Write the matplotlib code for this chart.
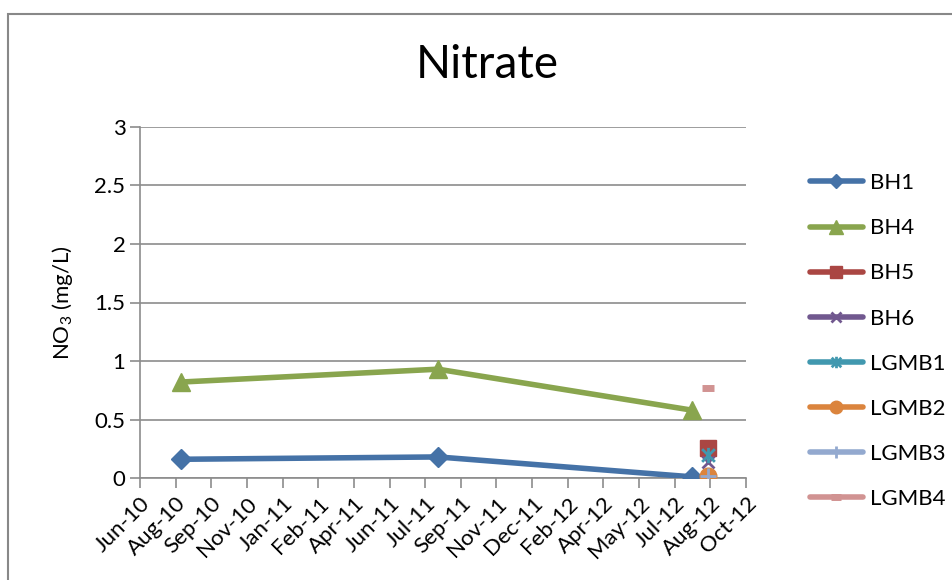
import datetime as dt
import matplotlib
matplotlib.use("Agg")
import matplotlib.pyplot as plt
import matplotlib.dates as mdates
from matplotlib.ticker import FixedLocator, FixedFormatter
from matplotlib.patches import Rectangle
from matplotlib.path import Path

plt.rcParams['font.family'] = ['Lato', 'DejaVu Sans']
plt.rcParams['mathtext.fontset'] = 'custom'
plt.rcParams['mathtext.rm'] = 'Lato'

# ---- data ----
axis_start = dt.date(2010, 6, 22)
tick_step_days = 50
tick_labels = ["Jun-10", "Aug-10", "Sep-10", "Nov-10", "Jan-11", "Feb-11", "Apr-11",
               "Jun-11", "Jul-11", "Sep-11", "Nov-11", "Dec-11", "Feb-12", "Apr-12",
               "May-12", "Jul-12", "Aug-12", "Oct-12"]

bh_dates = [dt.date(2010, 8, 18), dt.date(2011, 8, 14), dt.date(2012, 8, 4)]
lgmb_date = [dt.date(2012, 8, 26)]

series_names = ["BH1", "BH4", "BH5", "BH6", "LGMB1", "LGMB2", "LGMB3", "LGMB4"]
bh1 = [0.16, 0.18, 0.01]
bh4 = [0.82, 0.93, 0.58]
bh5 = [0.26]
bh6 = [0.14]
lgmb1 = [0.20]
lgmb2 = [0.02]
lgmb3 = [0.02]
lgmb4 = [0.77]

# Excel-style star marker: x plus vertical bar
star_path = Path([(-1, -1), (1, 1), (-1, 1), (1, -1), (0, -1.2), (0, 1.2)],
                 [Path.MOVETO, Path.LINETO, Path.MOVETO, Path.LINETO, Path.MOVETO, Path.LINETO])

colors = ['#4572A7', '#89A54E', '#AA4643', '#71588F', '#4198AF', '#DB843D', '#93A9CF', '#D19392']
markers = ['D', '^', 's', 'x', star_path, 'o', '+', '_']
msizes = [10, 13, 12, 9, 11, 12, 12, 9]

fig = plt.figure(figsize=(9.53, 5.8), dpi=100)
ax = fig.add_axes([140 / 953, (580 - 478) / 580, (746 - 140) / 953, (478 - 127) / 580])

fig.patches.append(Rectangle((8 / 953, -0.1), 1.2, (580 - 14) / 580 + 0.1,
                             transform=fig.transFigure, fill=False,
                             edgecolor='#888888', linewidth=1.5, zorder=0))

all_x = [bh_dates, bh_dates, lgmb_date, lgmb_date, lgmb_date, lgmb_date, lgmb_date, lgmb_date]
all_y = [bh1, bh4, bh5, bh6, lgmb1, lgmb2, lgmb3, lgmb4]

for name, xs, ys, c, m, ms in zip(series_names, all_x, all_y, colors, markers, msizes):
    filled = isinstance(m, str) and m in ('D', '^', 's', 'o')
    mew = 1 if filled else 2
    if isinstance(m, str) and m == '_':
        mew = 5
    ax.plot([mdates.date2num(d) for d in xs], ys, color=c, marker=m, markersize=ms,
            linewidth=4, markeredgewidth=mew, markeredgecolor=c, label=name,
            solid_capstyle='round', zorder=3)

tick_nums = [mdates.date2num(axis_start) + tick_step_days * i for i in range(len(tick_labels))]
ax.set_xlim(tick_nums[0], tick_nums[-1])
ax.xaxis.set_major_locator(FixedLocator(tick_nums))
ax.xaxis.set_major_formatter(FixedFormatter(tick_labels))
plt.setp(ax.get_xticklabels(), rotation=45, ha='right', rotation_mode='anchor')

ax.set_ylim(0, 3)
ax.set_yticks([0, 0.5, 1, 1.5, 2, 2.5, 3])
ax.set_yticklabels(['0', '0.5', '1', '1.5', '2', '2.5', '3'])
ax.grid(axis='y', color='#8c8c8c', linewidth=1.2)
ax.set_axisbelow(True)

for s in ['top', 'right']:
    ax.spines[s].set_visible(False)
for s in ['left', 'bottom']:
    ax.spines[s].set_color('#8c8c8c')
    ax.spines[s].set_linewidth(1.2)
ax.tick_params(axis='both', colors='#8c8c8c', width=1.2, length=7, labelcolor='black', labelsize=16)
ax.tick_params(axis='x', pad=4)

ax.set_ylabel(r'NO$_\mathregular{3}$ (mg/L)', fontsize=16, labelpad=14)
fig.text(487 / 953, 1 - 65 / 580, 'Nitrate', fontsize=33, ha='center', va='center')

leg = ax.legend(loc='center left', bbox_to_anchor=(1.072, 0.39), frameon=False,
                fontsize=16, handlelength=2.4, labelspacing=1.13, handletextpad=0.3,
                markerscale=0.75)

fig.savefig('out.png', dpi=100)
